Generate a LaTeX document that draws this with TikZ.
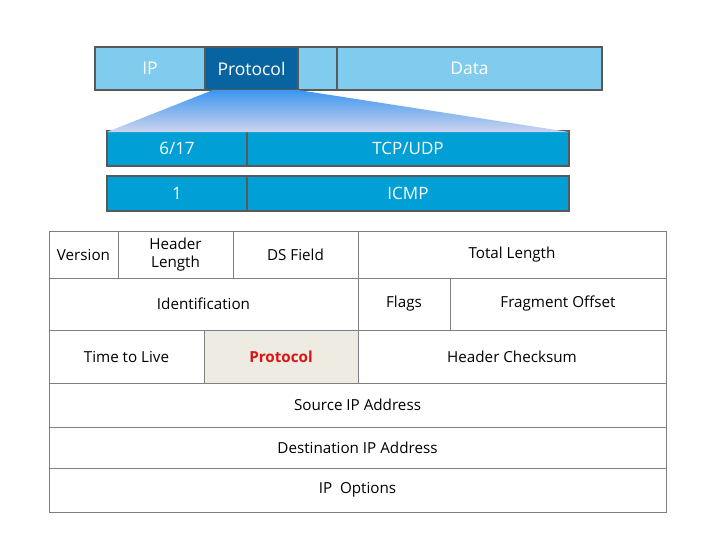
\documentclass[tikz,border=0pt]{standalone}
\usepackage{fontspec}
\setmainfont{Open Sans}
\usetikzlibrary{positioning}
\definecolor{barlight}{RGB}{128,204,238}
\definecolor{bardark}{RGB}{8,100,160}
\definecolor{rowblue}{RGB}{0,160,214}
\definecolor{fanblue}{RGB}{60,150,240}
\definecolor{fanpale}{RGB}{205,212,238}
\definecolor{protofill}{RGB}{237,235,226}
\definecolor{protored}{RGB}{220,20,20}
\begin{document}
\begin{tikzpicture}[x=1pt,y=-1pt,
  every node/.style={inner sep=0pt, outer sep=0pt},
  bar/.style={draw=black!65, line width=1.4pt, fill=#1, text=white,
              font=\fontsize{17.5}{20}\selectfont, minimum height=43pt},
  kind/.style={draw=black!65, line width=1.4pt, fill=rowblue, text=white,
               font=\fontsize{17}{20}\selectfont, minimum height=35pt},
  field/.style={draw=black!50, line width=0.8pt, align=center,
                font=\fontsize{15.2}{18}\selectfont}
]
\useasboundingbox (0,0) rectangle (702,533);

% packet
\node[bar=barlight, minimum width=110pt] (ip)    at (150,68.5)   {IP};
\node[bar=bardark,  minimum width=93pt]  (proto) at (251.5,68.5) {Protocol};
\node[bar=barlight, minimum width=39pt]  (gap)   at (317.5,68.5) {};
\node[bar=barlight, minimum width=265pt] (data)  at (469.5,68.5) {Data};

% protocol numbers
\node[kind, minimum width=140pt] (num)  at (177,148.5) {6/17};
\node[kind, minimum width=322pt] (tcp)  at (408,148.5) {TCP/UDP};
\node[kind, minimum width=140pt] (one)  at (177,193.5) {1};
\node[kind, minimum width=322pt] (icmp) at (408,193.5) {ICMP};

\shade[top color=fanblue, bottom color=fanpale]
  ([xshift=8pt]proto.south west) -- (proto.south east)
  -- ([yshift=-1pt]tcp.north east) -- ([yshift=-1pt]num.north west) -- cycle;

% IP header
\node[field, minimum width=69pt,  minimum height=47pt] (ver)   at (83.5,254.5)  {Version};
\node[field, minimum width=115pt, minimum height=47pt] (hlen)  at (175.5,254.5) {Header\\Length};
\node[field, minimum width=125pt, minimum height=47pt] (ds)    at (295.5,254.5) {DS Field};
\node[field, minimum width=308pt, minimum height=47pt] (tlen)  at (512,254.5)   {Total Length};

\node[field, minimum width=309pt, minimum height=52pt] (ident) at (203.5,304)   {Identification};
\node[field, minimum width=92pt,  minimum height=52pt] (flags) at (404,304)     {Flags};
\node[field, minimum width=216pt, minimum height=52pt] (frag)  at (558,304)     {Fragment Offset};

\node[field, minimum width=155pt, minimum height=53pt] (ttl)   at (126.5,356.5) {Time to Live};
\node[field, minimum width=154pt, minimum height=53pt, fill=protofill,
      text=protored, font=\fontsize{15.2}{18}\selectfont\bfseries] (pfield) at (281,356.5) {Protocol};
\node[field, minimum width=308pt, minimum height=53pt] (csum)  at (512,356.5)   {Header Checksum};

\node[field, minimum width=617pt, minimum height=44pt] (src)   at (357.5,405)   {Source IP Address};
\node[field, minimum width=617pt, minimum height=41pt] (dst)   at (357.5,447.5) {Destination IP Address};
\node[field, minimum width=617pt, minimum height=44pt] (opt)   at (357.5,490)   {IP~~Options};
\end{tikzpicture}
\end{document}
